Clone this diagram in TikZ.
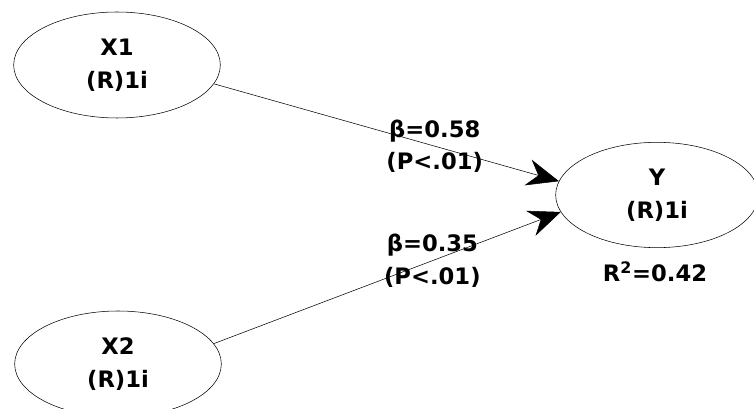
\documentclass[tikz,border=0pt]{standalone}
\usepackage{fontspec}
\setmainfont{DejaVu Sans}
\usetikzlibrary{arrows.meta, shapes.geometric}

\tikzset{
    latent/.style={draw, thin, ellipse, inner sep=0pt, align=center,
        minimum width=155pt, minimum height=79.5pt},
    effect/.style={thin, -{Stealth[length=24pt, width=20pt, inset=8pt]}},
    coef/.style={align=center}
}

\begin{document}
\begin{tikzpicture}[x=0.75pt, y=-0.75pt,
    font=\bfseries\fontsize{17}{24.5}\selectfont]

    % canvas
    \useasboundingbox (0,0) rectangle (754,409);
    \clip (0,0) rectangle (754,409);

    % Latent variables
    \node[latent] (x1) at (117,65) {X1\\(R)1i};
    \node[latent] (x2) at (118,364) {X2\\(R)1i};
    \node[latent, minimum width=152pt, minimum height=79pt] (y) at (657,195) {Y\\(R)1i};
    \node (r2) at (655,272) {R\textsuperscript{2}=0.42};

    % Paths with coefficients
    \draw[effect] (x1.-11) -- (y.172)
        node[coef, pos=0.64] (b1) {β=0.58\\(P<.01)};
    \draw[effect] (x2.12) -- (y.-170)
        node[coef, pos=0.63] (b2) {β=0.35\\(P<.01)};
\end{tikzpicture}
\end{document}
